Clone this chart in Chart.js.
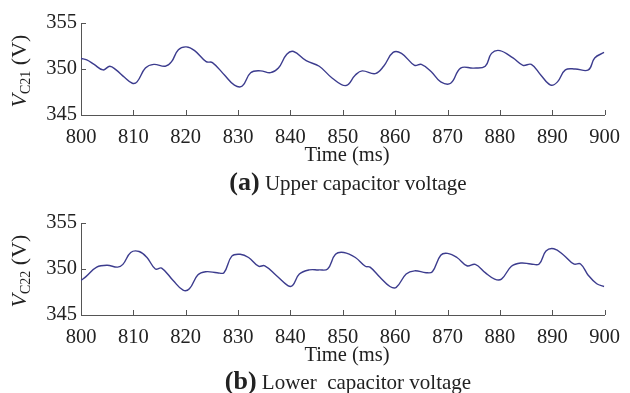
<!DOCTYPE html>
<html>
<head>
<meta charset="utf-8">
<script src="https://cdn.jsdelivr.net/npm/chart.js@4.4.1/dist/chart.umd.min.js"></script>
<style>
  body { margin: 0; background: #fff; width: 630px; height: 393px; overflow: hidden; position: relative; font-family: "Liberation Serif", serif; color: #222; }
  .plot { position: absolute; left: 0; width: 630px; height: 150px; }
  .ylab { position: absolute; left: 20px; transform: translate(-50%, -50%) rotate(-90deg); font-size: 22px; white-space: nowrap; }
  .ylab sub { font-size: 14px; vertical-align: -4px; }
  .xlab { position: absolute; left: 347px; transform: translate(-50%, -50%); font-size: 20.5px; white-space: nowrap; }
  .cap { position: absolute; left: 348px; transform: translate(-50%, -50%); font-size: 21px; white-space: pre; }
  .cap b { font-size: 26px; }
</style>
</head>
<body>
<div class="plot" style="top:0"><canvas id="upper"></canvas></div>
<div class="plot" style="top:200px"><canvas id="lower"></canvas></div>
<div class="ylab" style="top:71px"><i>V</i><sub>C21</sub> (V)</div>
<div class="ylab" style="top:271px"><i>V</i><sub>C22</sub> (V)</div>
<div class="xlab" style="top:154px">Time (ms)</div>
<div class="xlab" style="top:354px">Time (ms)</div>
<div class="cap" style="top:182px"><b>(a)</b> Upper capacitor voltage</div>
<div class="cap" style="top:381px"><b>(b)</b> Lower  capacitor voltage</div>
<script>
const xTicks = [800, 810, 820, 830, 840, 850, 860, 870, 880, 890, 900];
const yTicks = [345, 350, 355];

const upperT = [800, 801.1, 802.5, 804.2, 805.5, 806.7, 808.3, 809.8, 810.7, 812.3, 813.9, 816.1, 817.3, 818.6, 820.1, 821.7, 823.9, 825.1, 827.4, 829.3, 830.8, 832.4, 834.3, 836.2, 837.7, 839.3, 840.6, 843.0, 845.5, 848.0, 850.6, 852.4, 853.7, 856.2, 857.8, 859.6, 861.2, 863.7, 865.0, 866.9, 868.7, 870.6, 872.5, 875.0, 877.2, 878.4, 880.0, 882.5, 884.4, 886.0, 887.8, 889.7, 891.0, 892.5, 894.4, 896.9, 898.1, 899.9];
const upperV = [351.15, 351.0, 350.5, 349.9, 350.3, 349.9, 349.1, 348.45, 348.6, 350.1, 350.5, 350.3, 350.8, 352.1, 352.4, 352.0, 350.8, 350.7, 349.35, 348.25, 348.15, 349.6, 349.8, 349.6, 350.1, 351.6, 351.9, 350.9, 350.3, 349.0, 348.2, 349.35, 349.8, 349.5, 350.3, 351.8, 351.7, 350.4, 350.5, 349.7, 348.6, 348.45, 350.1, 350.1, 350.3, 351.7, 352.0, 351.2, 350.4, 350.5, 349.35, 348.25, 348.6, 349.9, 350.0, 349.9, 351.2, 351.8];

const lowerT = [800, 801, 803, 805, 807, 808, 809.5, 811.1, 812.6, 814.2, 815.4, 817.6, 819.5, 820.7, 822.3, 823.8, 826, 827.3, 828.8, 830.4, 832, 833.9, 835.1, 837.3, 839.5, 840.4, 841.7, 843.6, 845.5, 847.1, 848.6, 850.2, 852.4, 854.3, 855.2, 857.1, 859.0, 860.2, 862.1, 863.7, 865.9, 867.1, 868.7, 870.0, 871.8, 873.7, 875.3, 877.2, 879.0, 880.3, 882.2, 884.0, 885.9, 887.5, 888.8, 890.3, 892.2, 894.1, 895.4, 896.9, 898.5, 899.9];
const lowerV = [348.75, 349.2, 350.2, 350.4, 350.2, 350.5, 351.8, 351.9, 351.25, 350.0, 350.1, 348.75, 347.7, 347.85, 349.35, 349.7, 349.6, 349.6, 351.4, 351.6, 351.25, 350.3, 350.35, 349.3, 348.2, 348.2, 349.45, 349.9, 349.9, 350.0, 351.6, 351.8, 351.25, 350.3, 350.2, 349.1, 348.1, 348.0, 349.45, 349.8, 349.6, 349.7, 351.5, 351.7, 351.25, 350.35, 350.5, 349.6, 348.9, 348.9, 350.3, 350.65, 350.55, 350.55, 351.95, 352.2, 351.5, 350.55, 350.55, 349.3, 348.4, 348.1];

const tickFont = { family: 'Liberation Serif', size: 20.5 };

// short tick marks pointing into the plot
const innerTicks = {
  id: 'innerTicks',
  afterDraw(chart) {
    const ctx = chart.ctx, a = chart.chartArea;
    const sx = chart.scales.x, sy = chart.scales.y;
    ctx.save();
    ctx.strokeStyle = '#555';
    ctx.lineWidth = 1;
    ctx.beginPath();
    sx.ticks.forEach(t => {
      const p = Math.round(sx.getPixelForValue(t.value)) + 0.5;
      ctx.moveTo(p, a.bottom); ctx.lineTo(p, a.bottom - 5);
    });
    sy.ticks.forEach(t => {
      const p = Math.round(sy.getPixelForValue(t.value)) + 0.5;
      ctx.moveTo(a.left, p); ctx.lineTo(a.left + 5, p);
    });
    ctx.stroke();
    ctx.restore();
  }
};

function makeChart(id, ts, vs) {
  return new Chart(document.getElementById(id), {
    type: 'line',
    data: {
      datasets: [{
        data: ts.map((t, i) => ({ x: t, y: vs[i] })),
        borderColor: '#3c3c8e',
        borderWidth: 1.4,
        pointRadius: 0,
        tension: 0.4,
        fill: false,
      }],
    },
    options: {
      responsive: true, maintainAspectRatio: false, animation: false,
      layout: { padding: { top: 23, right: 17, left: 0, bottom: 0 } },
      plugins: { legend: { display: false }, tooltip: { enabled: false } },
      scales: {
        x: {
          type: 'linear', min: 800, max: 900,
          afterBuildTicks: s => { s.ticks = xTicks.map(v => ({ value: v })); },
          afterFit: s => { s.height = 35; },
          ticks: { font: tickFont, color: '#222', padding: 10, maxRotation: 0, autoSkip: false },
          grid: { display: false, drawTicks: false },
          border: { color: '#555', width: 1 },
        },
        y: {
          min: 345, max: 355,
          afterBuildTicks: s => { s.ticks = yTicks.map(v => ({ value: v })); },
          afterFit: s => { s.width = 81; },
          ticks: { font: tickFont, color: '#222', padding: 4 },
          grid: { display: false, drawTicks: false },
          border: { color: '#555', width: 1 },
        },
      },
    },
    plugins: [innerTicks],
  });
}

makeChart('upper', upperT, upperV);
makeChart('lower', lowerT, lowerV);
</script>
</body>
</html>
